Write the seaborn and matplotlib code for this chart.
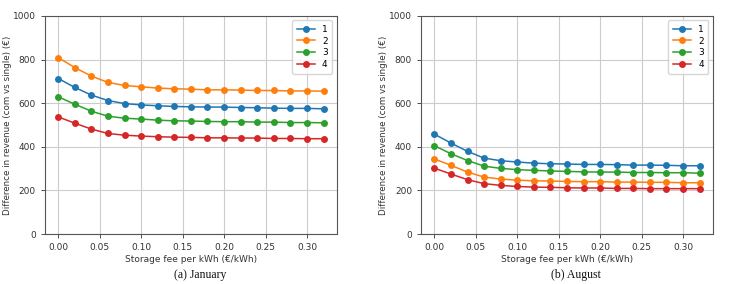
import numpy as np
import pandas as pd
import matplotlib
matplotlib.use("Agg")
import matplotlib.pyplot as plt
import seaborn as sns

fees = [0.00, 0.02, 0.04, 0.06, 0.08, 0.10, 0.12, 0.14, 0.16, 0.18, 0.20, 0.22, 0.24, 0.26, 0.28, 0.30, 0.32]
groups = ["1", "2", "3", "4"]

jan_1 = [713, 672, 637, 612, 598, 592, 588, 585, 583, 582, 582, 580, 579, 577, 576, 576, 574]
jan_2 = [809, 763, 724, 695, 681, 675, 669, 666, 664, 661, 661, 660, 658, 658, 656, 656, 655]
jan_3 = [629, 595, 563, 540, 531, 527, 522, 519, 518, 516, 515, 515, 513, 513, 511, 511, 510]
jan_4 = [537, 508, 481, 461, 453, 449, 446, 444, 443, 441, 441, 440, 440, 438, 438, 437, 437]

aug_1 = [458, 417, 379, 348, 336, 330, 325, 322, 321, 319, 319, 318, 316, 316, 315, 313, 313]
aug_2 = [344, 315, 284, 261, 252, 247, 244, 243, 241, 240, 240, 238, 238, 237, 237, 235, 235]
aug_3 = [405, 368, 337, 311, 301, 295, 292, 289, 287, 285, 284, 284, 282, 282, 281, 281, 279]
aug_4 = [302, 275, 249, 231, 223, 218, 215, 214, 212, 211, 211, 209, 209, 208, 208, 208, 208]

captions = ["(a) January", "(b) August"]
xlabel = "Storage fee per kWh (€/kWh)"
ylabel = "Difference in revenue (com vs single) (€)"


def to_long(series):
    rows = []
    for g, vals in zip(groups, series):
        for f, v in zip(fees, vals):
            rows.append({"fee": f, "value": v, "group": g})
    return pd.DataFrame(rows)


data = [to_long([jan_1, jan_2, jan_3, jan_4]), to_long([aug_1, aug_2, aug_3, aug_4])]

plt.rcParams["font.family"] = ["DejaVu Sans"]
fig = plt.figure(figsize=(7.56, 2.84), dpi=100)
positions = [[0.0595, 0.176, 0.386, 0.768], [0.557, 0.176, 0.386, 0.768]]
palette = sns.color_palette("tab10", 4)

for pos, df, cap in zip(positions, data, captions):
    ax = fig.add_axes(pos)
    sns.lineplot(data=df, x="fee", y="value", hue="group", hue_order=groups,
                 palette=palette, marker="o", markersize=5, markeredgewidth=0,
                 linewidth=1.1, ax=ax)
    ax.set_ylim(0, 1000)
    ax.set_xlim(-0.016, 0.336)
    ax.set_xticks([0.00, 0.05, 0.10, 0.15, 0.20, 0.25, 0.30])
    ax.set_yticks([0, 200, 400, 600, 800, 1000])
    ax.tick_params(labelsize=6.5, length=3, width=0.6, colors="#333333")
    ax.grid(True, color="#cccccc", linewidth=0.8)
    ax.set_axisbelow(True)
    for s in ax.spines.values():
        s.set_color("#555555")
        s.set_linewidth(0.8)
    ax.set_xlabel(xlabel, fontsize=6.5, color="#333333", labelpad=2)
    ax.set_ylabel(ylabel, fontsize=6.3, color="#333333", labelpad=1)
    leg = ax.legend(loc="upper right", fontsize=6.5, title=None, frameon=True,
                    handlelength=2.0, borderpad=0.5, labelspacing=0.3)
    leg.get_frame().set_edgecolor("#cccccc")
    cx = pos[0] + pos[2] / 2 + 0.012
    fig.text(cx, 0.03, cap, ha="center", va="center",
             fontsize=8.5, family=["Liberation Serif"], color="#111111")

fig.savefig("out.png", dpi=100)
